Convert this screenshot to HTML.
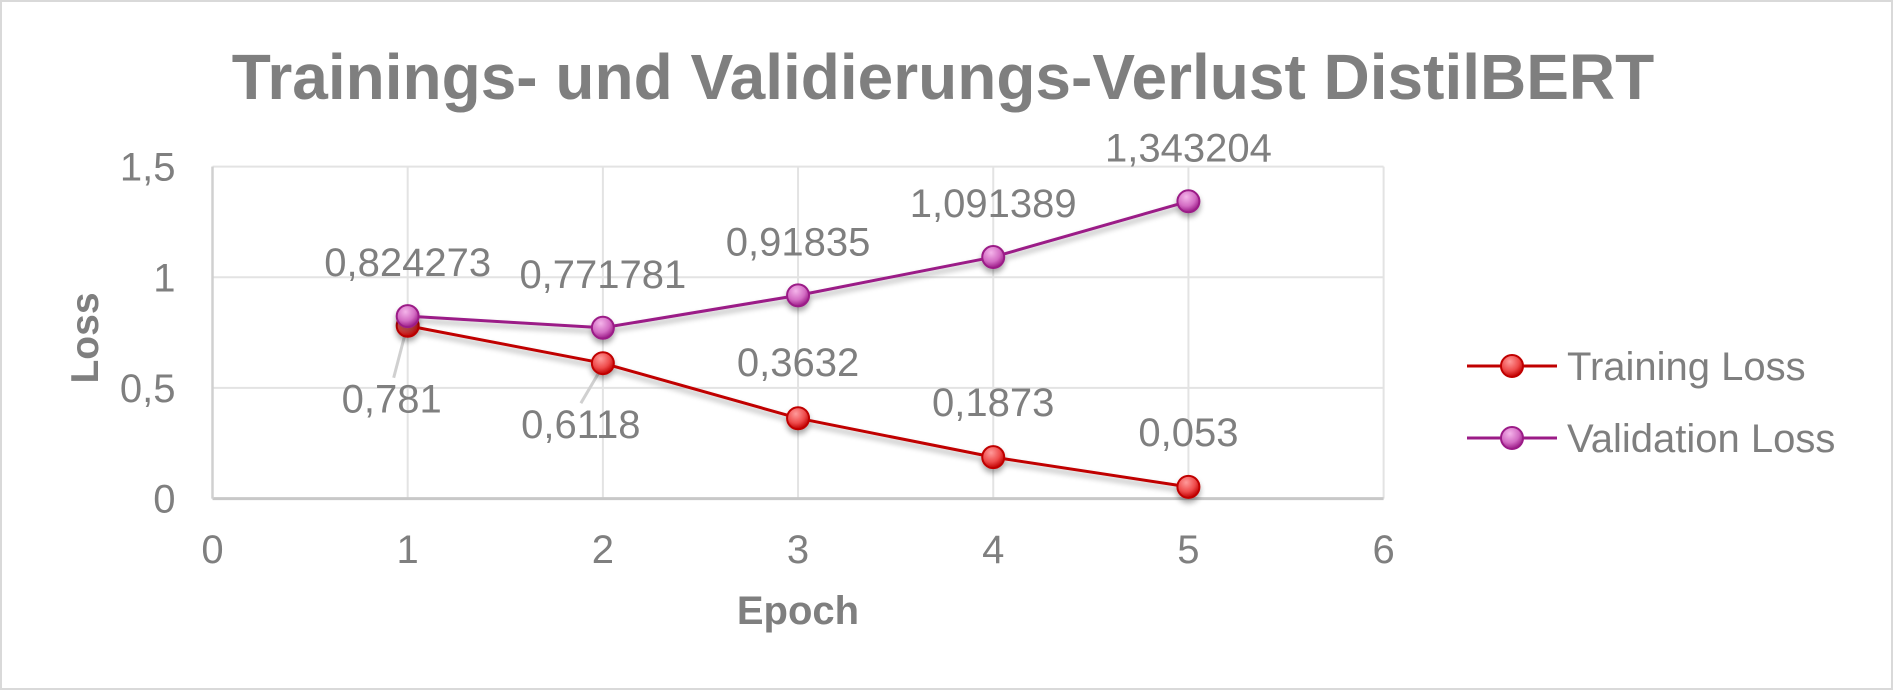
<!DOCTYPE html>
<html><head><meta charset="utf-8"><style>
html,body{margin:0;padding:0;background:#fff}
svg{display:block;font-family:"Liberation Sans",Arial,sans-serif}
</style></head><body>
<svg id="chart" width="1893" height="690" viewBox="0 0 1893 690">
<defs>
<radialGradient id="gT" cx="40%" cy="30%" r="70%"><stop offset="0" stop-color="#ff9a9a"/><stop offset="0.6" stop-color="#ee4b4b"/><stop offset="1" stop-color="#c00000"/></radialGradient>
<radialGradient id="gV" cx="40%" cy="30%" r="70%"><stop offset="0" stop-color="#f4b4ea"/><stop offset="0.6" stop-color="#d36cc3"/><stop offset="1" stop-color="#9b1b87"/></radialGradient>
<filter id="sh" x="-50%" y="-50%" width="200%" height="200%"><feGaussianBlur in="SourceAlpha" stdDeviation="3"/><feOffset dy="4"/><feComponentTransfer><feFuncA type="linear" slope="0.35"/></feComponentTransfer><feMerge><feMergeNode/><feMergeNode in="SourceGraphic"/></feMerge></filter>
</defs>
<rect x="1" y="1" width="1891" height="688" fill="#fff" stroke="#d9d9d9" stroke-width="2"/>
<text x="943" y="99" text-anchor="middle" font-size="64" font-weight="bold" fill="#7f7f7f">Trainings- und Validierungs-Verlust DistilBERT</text>
<g id="grid"></g>
<g id="axes"></g>
<g id="series"></g>
<text transform="translate(98,338) rotate(-90)" text-anchor="middle" font-size="39" font-weight="bold" fill="#7f7f7f">Loss</text>
<text x="798" y="624" text-anchor="middle" font-size="40" font-weight="bold" fill="#7f7f7f">Epoch</text>
<g>
<g>
<line x1="1467" y1="366" x2="1557" y2="366" stroke="#c00000" stroke-width="3"/>
<circle cx="1512" cy="366" r="11" fill="url(#gT)" stroke="#c00000" stroke-width="2"/>
<text x="1567" y="380" font-size="40" fill="#7f7f7f">Training Loss</text></g>
<g>
<line x1="1467" y1="438" x2="1557" y2="438" stroke="#9b1b87" stroke-width="3"/>
<circle cx="1512" cy="438" r="11" fill="url(#gV)" stroke="#9b1b87" stroke-width="2"/>
<text x="1567" y="452" font-size="40" fill="#7f7f7f">Validation Loss</text></g>
</g>
</svg>
<script>
const epochs=[1,2,3,4,5];
const trainLoss=[0.781,0.6118,0.3632,0.1873,0.053];
const valLoss=[0.824273,0.771781,0.91835,1.091389,1.343204];
const xTicks=[0,1,2,3,4,5,6];
const yTicks=[0,0.5,1,1.5];
const trainLabels=["0,781","0,6118","0,3632","0,1873","0,053"];
const valLabels=["0,824273","0,771781","0,91835","1,091389","1,343204"];
const X0=212.5,X1=1383.6,Y0=498.6,Y1=166.6;
const sx=v=>X0+(v-0)/(6-0)*(X1-X0);
const sy=v=>Y0-(v-0)/(1.5-0)*(Y0-Y1);
const NS="http://www.w3.org/2000/svg";
function mk(t,a,p){const e=document.createElementNS(NS,t);for(const k in a)e.setAttribute(k,a[k]);p.appendChild(e);return e;}
const grid=document.getElementById('grid'),axes=document.getElementById('axes'),ser=document.getElementById('series');
xTicks.forEach(v=>{
 const l=mk('line',{x1:sx(v),x2:sx(v),y1:Y1,y2:Y0,stroke:'#e3e3e3','stroke-width':2},grid);
 
 
 const t=mk('text',{x:sx(v),y:563,'text-anchor':'middle','font-size':40,fill:'#7f7f7f'},axes);
 t.textContent=String(v);
 
 
});
yTicks.forEach(v=>{
 const l=mk('line',{x1:X0,x2:X1,y1:sy(v),y2:sy(v),stroke:v===0?'#c8c8c8':'#e3e3e3','stroke-width':v===0?3:2},grid);
 
 
 const t=mk('text',{x:X0-37,y:sy(v)+14,'text-anchor':'end','font-size':40,fill:'#7f7f7f'},axes);
 t.textContent=String(v).replace('.',',');
 
 
});
const ya=mk('line',{x1:X0,x2:X0,y1:Y1,y2:Y0,stroke:'#d0d0d0','stroke-width':2.5},grid);


function series(vals,col,grad,name){
 const g=mk('g',{filter:'url(#sh)'},ser);
 
 
 const pl=mk('polyline',{points:vals.map((v,i)=>sx(epochs[i])+','+sy(v)).join(' '),fill:'none',stroke:col,'stroke-width':3},g);
 
 
 vals.forEach((v,i)=>{
  const c=mk('circle',{cx:sx(epochs[i]),cy:sy(v),r:11,fill:'url(#'+grad+')',stroke:col,'stroke-width':2},g);
  
  
 });
}
[[0,-14,52],[1,-22,40]].forEach(([i,dx,dy])=>{
 const x=sx(epochs[i]),y=sy(trainLoss[i]);
 const l=mk('line',{x1:x-2,y1:y+6,x2:x+dx,y2:y+dy,stroke:'#d0d0d0','stroke-width':3},ser);
 
 
});
series(trainLoss,'#c00000','gT','training');
series(valLoss,'#9b1b87','gV','validation');
const tOff=[[-16,87],[-22,75],[0,-42],[0,-41],[0,-41]];
trainLoss.forEach((v,i)=>{
 const t=mk('text',{x:sx(epochs[i])+tOff[i][0],y:sy(v)+tOff[i][1],'text-anchor':'middle','font-size':40,fill:'#7f7f7f'},ser);
 t.textContent=trainLabels[i];
 
 
});
valLoss.forEach((v,i)=>{
 const t=mk('text',{x:sx(epochs[i]),y:sy(v)-40,'text-anchor':'middle','font-size':40,fill:'#7f7f7f'},ser);
 t.textContent=valLabels[i];
 
 
});
</script>
</body></html>
